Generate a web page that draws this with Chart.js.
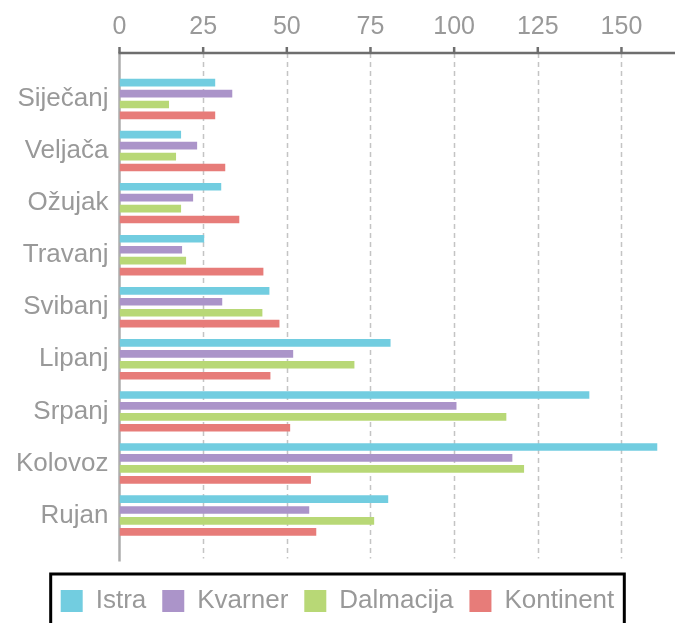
<!DOCTYPE html>
<html>
<head>
<meta charset="utf-8">
<script src="https://cdn.jsdelivr.net/npm/chart.js@4"></script>
<style>
  html, body { margin: 0; padding: 0; overflow: hidden; background: #fff; }
  #wrap { width: 675px; height: 624px; }
</style>
</head>
<body>
<div id="wrap"><canvas id="tourismChart"></canvas></div>
<script>
const months = ['Siječanj', 'Veljača', 'Ožujak', 'Travanj', 'Svibanj', 'Lipanj', 'Srpanj', 'Kolovoz', 'Rujan'];
const regions = ['Istra', 'Kvarner', 'Dalmacija', 'Kontinent'];
const istra = [28.6, 18.4, 30.4, 25.3, 44.8, 81.0, 140.4, 160.7, 80.3];
const kvarner = [33.7, 23.2, 22.0, 18.7, 30.7, 51.9, 100.7, 117.4, 56.7];
const dalmacija = [14.8, 16.9, 18.4, 19.9, 42.7, 70.2, 115.6, 120.9, 76.1];
const kontinent = [28.6, 31.6, 35.8, 43.0, 47.8, 45.1, 51.0, 57.2, 58.8];
const xTicks = [0, 25, 50, 75, 100, 125, 150];

const colors = ['#72cde0', '#ab94c9', '#b8d876', '#e77c79'];
const grey = '#999999';
const family = '"Liberation Sans", Arial, sans-serif';
const EXT = 20; // gridlines run past the plot area

// dashed grid, axis lines and tick marks drawn a bit outside the plot area
const axisLines = {
    id: 'axisLines',
    beforeDatasetsDraw(chart) {
        const { ctx, chartArea } = chart;
        const xs = chart.scales.x;
        const top = chartArea.top - EXT;
        const bottom = chartArea.bottom + EXT;
        ctx.save();
        ctx.strokeStyle = '#c4c4c4';
        ctx.lineWidth = 1.5;
        ctx.setLineDash([5, 4]);
        xTicks.slice(1).forEach(v => {
            const x = Math.round(xs.getPixelForValue(v)) + 0.5;
            ctx.beginPath();
            ctx.moveTo(x, top);
            ctx.lineTo(x, bottom - 3);
            ctx.stroke();
        });
        ctx.setLineDash([]);
        const x0 = xs.getPixelForValue(0);
        ctx.strokeStyle = '#acacac';
        ctx.lineWidth = 2.5;
        ctx.beginPath();
        ctx.moveTo(x0, top);
        ctx.lineTo(x0, bottom);
        ctx.stroke();
        ctx.strokeStyle = '#6e6e6e';
        ctx.beginPath();
        ctx.moveTo(x0 - 1, top);
        ctx.lineTo(chart.width, top);
        ctx.stroke();
        xTicks.forEach(v => {
            const x = xs.getPixelForValue(v);
            ctx.beginPath();
            ctx.moveTo(x, top - 6);
            ctx.lineTo(x, top);
            ctx.stroke();
        });
        ctx.restore();
    },
    afterDraw(chart) {
        const boxes = chart.legend.legendHitBoxes;
        if (!boxes || !boxes.length) return;
        const first = boxes[0];
        const last = boxes[boxes.length - 1];
        const left = first.left - 10;
        const right = last.left + last.width + 10;
        const top = first.top + first.height / 2 - 27;
        const ctx = chart.ctx;
        ctx.save();
        ctx.strokeStyle = '#000';
        ctx.lineWidth = 3;
        ctx.strokeRect(left, top, right - left, chart.height + 10 - top);
        ctx.restore();
    }
};

const ctx = document.getElementById('tourismChart').getContext('2d');

new Chart(ctx, {
    type: 'bar',
    data: {
        labels: months,
        datasets: [istra, kvarner, dalmacija, kontinent].map((vals, i) => ({
            label: regions[i],
            data: vals,
            backgroundColor: colors[i],
            borderWidth: 0,
            barPercentage: 0.7,
            categoryPercentage: 0.84
        }))
    },
    options: {
        indexAxis: 'y',
        responsive: true,
        maintainAspectRatio: false,
        animation: false,
        layout: { padding: { top: -19, left: 0, right: 0, bottom: 0 } },
        plugins: {
            tooltip: { enabled: false },
            legend: {
                position: 'bottom',
                title: { display: true, text: '', font: { size: 10 }, padding: { top: 18.5, bottom: 0 } },
                labels: {
                    boxWidth: 22,
                    boxHeight: 22,
                    padding: 16,
                    color: grey,
                    font: { family: family, size: 26 }
                }
            }
        },
        scales: {
            x: {
                position: 'top',
                min: 0,
                max: 166,
                afterBuildTicks: (scale) => {
                    scale.ticks = xTicks.map(v => ({ value: v }));
                },
                grid: { display: false, drawTicks: false },
                border: { display: false },
                ticks: {
                    padding: 31,
                    color: grey,
                    font: { family: family, size: 25 }
                }
            },
            y: {
                afterFit: (scale) => { scale.width = 119.5; },
                grid: { display: false, drawTicks: false },
                border: { display: false },
                ticks: {
                    padding: 11,
                    color: grey,
                    font: { family: family, size: 26 }
                }
            }
        }
    },
    plugins: [axisLines]
});
</script>
</body>
</html>
